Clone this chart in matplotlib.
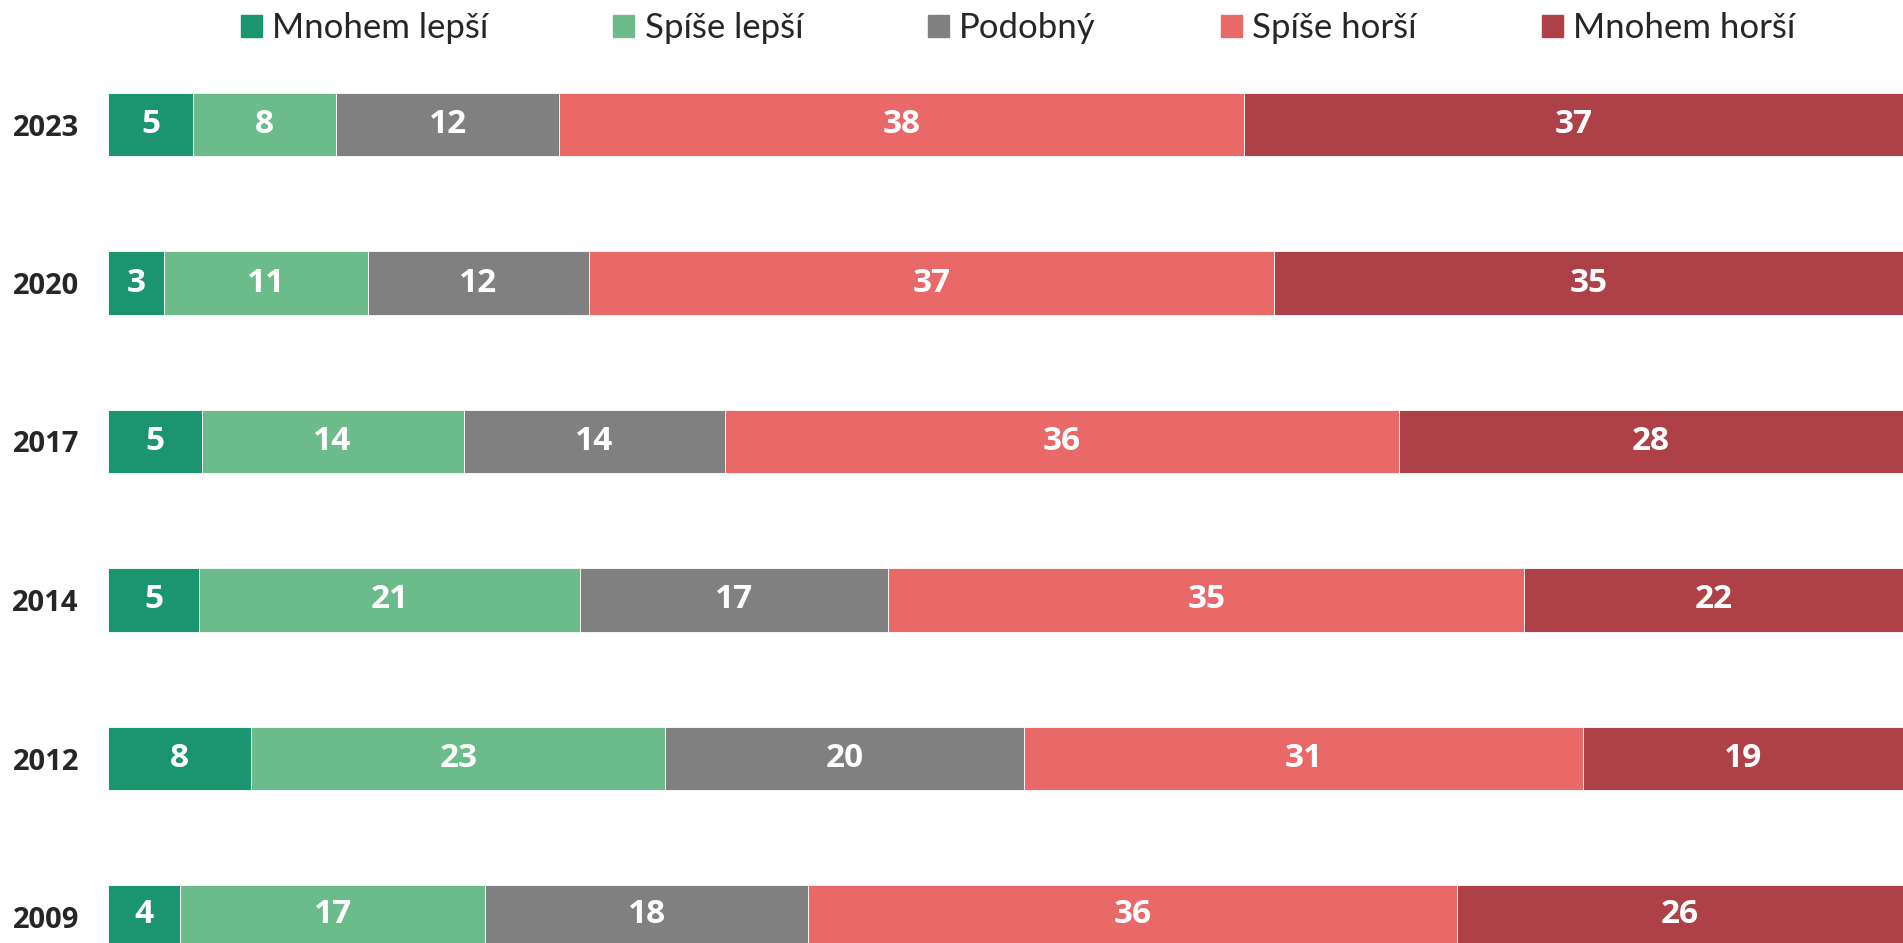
import matplotlib.pyplot as plt
from matplotlib.patches import Patch

years = ["2023", "2020", "2017", "2014", "2012", "2009"]
series = ["Mnohem lepší", "Spíše lepší", "Podobný", "Spíše horší", "Mnohem horší"]
colors = ["#1B9570", "#6BBB8B", "#808080", "#E96969", "#AE4148"]

# bar widths (share of the row, %)
mnohem_lepsi = [4.73, 3.11, 5.21, 5.07, 7.98, 3.99]
spise_lepsi = [7.98, 11.36, 14.60, 21.23, 23.06, 17.04]
podobny = [12.44, 12.31, 14.54, 17.17, 20.01, 17.99]
spise_horsi = [38.13, 38.20, 37.59, 35.43, 31.10, 36.11]
mnohem_horsi = [36.71, 35.02, 28.06, 21.10, 17.85, 24.88]

# printed values
lab_mnohem_lepsi = [5, 3, 5, 5, 8, 4]
lab_spise_lepsi = [8, 11, 14, 21, 23, 17]
lab_podobny = [12, 12, 14, 17, 20, 18]
lab_spise_horsi = [38, 37, 36, 35, 31, 36]
lab_mnohem_horsi = [37, 35, 28, 22, 19, 26]

widths = [mnohem_lepsi, spise_lepsi, podobny, spise_horsi, mnohem_horsi]
labels = [lab_mnohem_lepsi, lab_spise_lepsi, lab_podobny, lab_spise_horsi, lab_mnohem_horsi]

plt.rcParams['font.family'] = ['Lato', 'DejaVu Sans']
num_font = ['Open Sans', 'DejaVu Sans']

fig = plt.figure(figsize=(19.03, 9.43), dpi=100)
ax = fig.add_axes([108 / 1903, 0, 1 - 108 / 1903, 1])

ypos = list(range(len(years)))
left = [0.0] * len(years)
for name, w, lab, c in zip(series, widths, labels, colors):
    bars = ax.barh(ypos, w, left=left, height=0.4, color=c,
                   edgecolor="white", linewidth=0.6, label=name)
    ax.bar_label(bars, labels=[str(v) for v in lab], label_type="center",
                 color="white", fontsize=24, fontweight="bold", family=num_font)
    left = [l + x for l, x in zip(left, w)]

ax.set_xlim(0, 100)
ax.set_ylim((943 - 124.5) / 158.5, -124.5 / 158.5)
ax.set_yticks(ypos)
ax.set_yticklabels(years, fontsize=21, fontweight="bold", color="#262626", family=num_font)
ax.tick_params(axis="y", length=0, pad=21)
ax.set_xticks([])
for s in ax.spines.values():
    s.set_visible(False)

handles = [Patch(color=c) for c in colors]
fig.legend(handles, series, loc="center", bbox_to_anchor=(1018 / 1903, 1 - 28 / 943),
           ncol=5, frameon=False, fontsize=25, labelcolor="#262626",
           handlelength=0.6, handleheight=0.6, handletextpad=0.3,
           columnspacing=3.6)

fig.savefig("out.png", dpi=100)
